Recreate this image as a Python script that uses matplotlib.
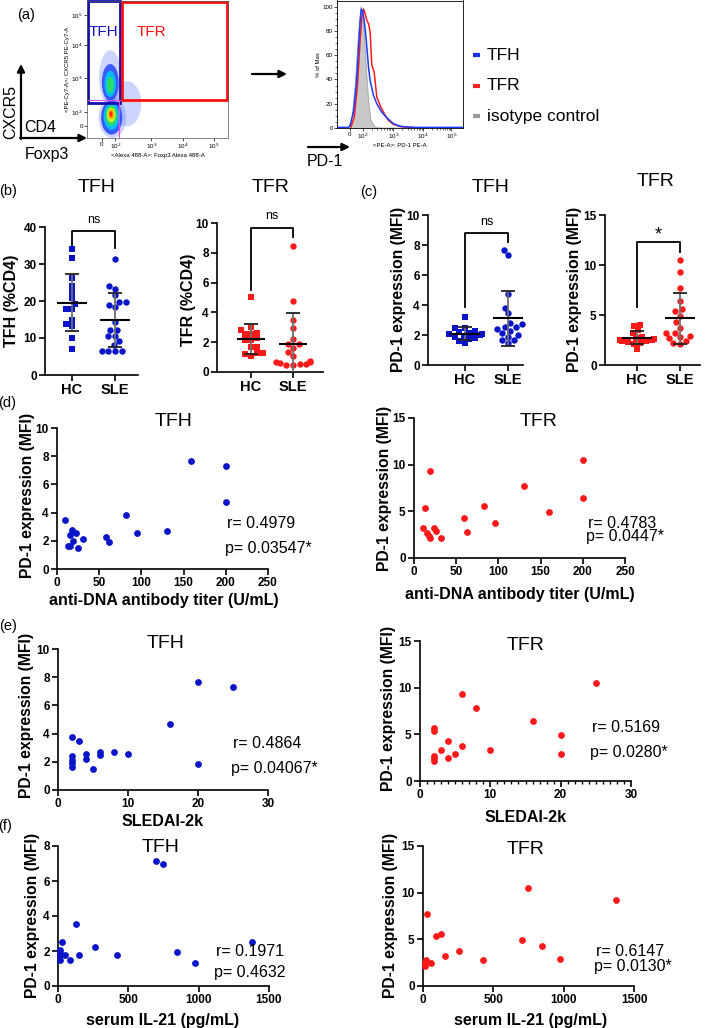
import matplotlib
matplotlib.use('Agg')
import matplotlib.pyplot as plt
from matplotlib.patches import Ellipse, Rectangle
import numpy as np
import seaborn as sns
import warnings
warnings.filterwarnings('ignore')

plt.rcParams['font.family'] = ['Liberation Sans', 'DejaVu Sans']

BLUE = '#0a14c8'
RED = '#ff1a1a'

# ---------------- data ----------------
groups = ['HC', 'SLE']
# (b) frequency of TFH / TFR (% of CD4)
tfh_pct_hc = [34.1, 31.7, 26.1, 24.0, 22.4, 20.8, 19.2, 17.8, 17.9, 14.9, 13.7, 13.3, 10.0, 7.1]
tfh_pct_sle = [31.4, 24.0, 23.3, 21.5, 19.8, 19.8, 19.0, 18.5, 14.2, 12.2, 12.2, 10.6, 10.6, 9.3, 8.2, 6.5, 6.5, 6.5, 6.5]
tfr_pct_hc = [5.05, 3.05, 2.85, 2.65, 2.55, 2.55, 2.25, 2.15, 2.15, 1.65, 1.65, 1.3, 1.25, 1.2, 1.1]
tfr_pct_sle = [8.44, 4.79, 3.5, 2.94, 2.2, 1.85, 1.85, 1.6, 1.34, 1.05, 0.75, 0.7, 0.65, 0.6, 0.55, 0.55, 0.5, 0.45]
# (c) PD-1 MFI of healthy controls
tfh_pd1_hc = [3.2, 2.5, 2.45, 2.3, 2.2, 2.15, 2.1, 2.05, 2.0, 1.95, 1.85, 1.8, 1.75, 1.6, 1.45]
tfr_pd1_hc = [4.05, 3.9, 3.5, 3.2, 2.85, 2.7, 2.6, 2.55, 2.5, 2.45, 2.4, 2.35, 2.25, 2.1, 1.6]
# (d) anti-DNA titer vs PD-1 (SLE)
dna_tfh_x = [9.9, 12.7, 15.1, 15.9, 17.9, 18.7, 22.6, 25.0, 31.0, 57.5, 61.5, 81.3, 95.2, 130.0, 158.7, 200.0, 200.0]
dna_tfh_y = [3.44, 1.66, 1.66, 2.39, 2.77, 2.01, 2.54, 1.47, 2.11, 2.30, 1.90, 3.82, 2.54, 2.73, 7.65, 7.32, 4.72]
dna_tfr_x = [10.7, 13.4, 15.8, 17.8, 18.6, 19.4, 23.7, 25.7, 31.6, 58.9, 62.5, 82.7, 95.7, 130.5, 159.4, 200.0, 200.0]
dna_tfr_y = [3.25, 5.36, 2.68, 2.39, 9.29, 2.11, 3.25, 2.89, 2.18, 4.29, 2.82, 5.61, 3.75, 7.71, 4.89, 10.46, 6.43]
# (e) SLEDAI-2k vs PD-1
sledai_tfh_x = [2, 2, 2, 2, 2, 3, 4, 4, 5, 6, 6, 8, 10, 16, 20, 20, 25]
sledai_tfh_y = [3.79, 2.44, 2.13, 1.90, 1.61, 3.44, 2.56, 2.23, 1.47, 2.73, 2.49, 2.73, 2.54, 4.69, 7.63, 1.85, 7.30]
sledai_tfr_x = [2, 2, 2, 2, 2, 3, 4, 4, 5, 6, 6, 8, 10, 16, 20, 20, 25]
sledai_tfr_y = [5.63, 5.38, 2.71, 2.42, 2.14, 3.28, 4.31, 2.49, 2.92, 9.30, 3.74, 7.77, 3.28, 6.45, 4.92, 2.89, 10.51]
# (f) serum IL-21 vs PD-1
il21_tfh_x = [12, 12, 12, 15, 31, 52, 88, 126, 150, 261, 420, 700, 743, 847, 973, 1377]
il21_tfh_y = [2.04, 1.76, 1.47, 1.90, 2.52, 1.79, 1.47, 3.57, 1.79, 2.23, 1.76, 7.12, 6.98, 1.95, 1.32, 2.52]
il21_tfr_x = [12, 12, 12, 24, 31, 55, 90, 126, 154, 256, 427, 704, 746, 846, 972, 1374]
il21_tfr_y = [2.57, 2.32, 2.11, 2.75, 7.68, 2.46, 5.32, 5.61, 3.21, 3.71, 2.82, 4.89, 10.5, 4.25, 2.89, 9.25]
stats_text = {
    'd_tfh': ('r= 0.4979', 'p= 0.03547*'), 'd_tfr': ('r= 0.4783', 'p= 0.0447*'),
    'e_tfh': ('r= 0.4864', 'p= 0.04067*'), 'e_tfr': ('r= 0.5169', 'p= 0.0280*'),
    'f_tfh': ('r= 0.1971', 'p= 0.4632'), 'f_tfr': ('r= 0.6147', 'p= 0.0130*'),
}
# (a) PD-1 histogram (display channel vs % of max)
hist_tfh_ch = [0, 92, 105, 132, 153, 171, 184, 192, 203, 216, 232, 250, 263, 289, 316, 355, 395, 447, 500, 605, 1000]
hist_tfh_pct = [0.5, 0.5, 2.2, 14.5, 36, 67, 88.5, 98, 96.7, 88.5, 72.6, 50, 39, 27, 20, 13, 8.5, 3.6, 1.4, 0.5, 0.5]
hist_tfr_ch = [111, 137, 163, 184, 197, 211, 224, 237, 250, 263, 276, 295, 316, 342, 374, 408, 447, 500, 553, 605]
hist_tfr_pct = [0.8, 9, 36, 73, 91, 98, 94, 88.5, 86, 79, 52, 46, 25.5, 18.6, 12, 6.3, 3, 1.4, 0.5, 0.5]
hist_iso_ch = [0, 92, 118, 145, 171, 192, 211, 232, 250, 268, 303, 342, 1000]
hist_iso_pct = [0, 0, 6, 36, 78, 100, 88, 50, 23, 6.3, 0.8, 0, 0]
# biexponential display: tick labels and channel positions
fl_tick_labels = ['0', '10$^2$', '10$^3$', '10$^4$', '10$^5$']
fl_x_ticks = [106, 201, 456, 681, 898]
fl_y_ticks = [84, 190, 439, 680, 899]
hist_x_ticks = [100, 203, 447, 684, 908]
# density blobs of the CD4 dot plot: (x, y, width, height) in channels
blob_colors = ['#2a4cff', '#00c8ff', '#2ee05a', '#e8f020', '#ff9a00', '#ff1a00']
blob_upper = [(165, 405, 120, 270), (165, 395, 82, 190), (165, 388, 50, 120)]
blob_lower = [(175, 150, 150, 250), (174, 158, 112, 198), (173, 163, 84, 150),
              (172, 168, 60, 106), (171, 172, 40, 70), (170, 175, 22, 40)]
blob_sparse = [(165, 440, 160, 400), (180, 150, 195, 300), (285, 250, 200, 330)]

# ---------------- figure ----------------
W, H = 709, 1028
fig = plt.figure(figsize=(W / 100, H / 100), dpi=100)


def ax_px(l, t, r, b):
    return fig.add_axes([l / W, 1 - b / H, (r - l) / W, (b - t) / H], facecolor='none')


def prism_axes(ax):
    for s in ['top', 'right']:
        ax.spines[s].set_visible(False)
    for s in ['left', 'bottom']:
        ax.spines[s].set_linewidth(1.2)
    ax.tick_params(length=4, width=1.2, pad=2)


def fmt(v):
    return str(int(v)) if float(v).is_integer() else str(v)


# ---- (a) dot plot
axd = ax_px(87, 1, 228, 138)
axd.set_xlim(0, 1000)
axd.set_ylim(0, 1000)
for (cx, cy, w, h) in blob_sparse:
    axd.add_patch(Ellipse((cx, cy), w, h, facecolor='#6f86ff', edgecolor='none', alpha=0.35))
for (cx, cy, w, h), c in zip(blob_upper, blob_colors):
    axd.add_patch(Ellipse((cx, cy), w, h, facecolor=c, edgecolor='none', alpha=0.9))
for (cx, cy, w, h), c in zip(blob_lower, blob_colors):
    axd.add_patch(Ellipse((cx, cy), w, h, facecolor=c, edgecolor='none', alpha=0.9))
axd.plot([0, 236], [277, 277], color='#e050e0', lw=0.8)
axd.plot([225, 225], [0, 277], color='#e050e0', lw=0.8)
axd.add_patch(Rectangle((4, 258), 232, 739, fill=False, edgecolor='#1010b0', lw=2.0, clip_on=False))
axd.add_patch(Rectangle((248, 277), 742, 716, fill=False, edgecolor='#ff1010', lw=2.0, clip_on=False))
axd.text(118, 771, 'TFH', color='#1010c0', fontsize=11, ha='center', va='center')
axd.text(456, 771, 'TFR', color='#ff1010', fontsize=11, ha='center', va='center')
axd.set_xticks(fl_x_ticks, labels=fl_tick_labels, fontsize=4.5)
axd.set_yticks(fl_y_ticks, labels=fl_tick_labels, fontsize=4.5)
axd.tick_params(length=2, width=0.5, pad=1)
for s in axd.spines.values():
    s.set_linewidth(0.5)
    s.set_color('#555555')
axd.set_xlabel('<Alexa 488-A>: Foxp3 Alexa 488-A', fontsize=4.3, labelpad=1)
axd.set_ylabel('<PE-Cy7-A>: CXCR5 PE-Cy7-A', fontsize=4.3, labelpad=1)

# ---- (a) histogram
axh = ax_px(337, 0.5, 463, 128)
axh.fill_between(hist_iso_ch, hist_iso_pct, color='#c8c8c8', lw=0)
axh.plot(hist_iso_ch, hist_iso_pct, color='#a8a8a8', lw=0.6)
axh.plot(hist_tfr_ch, hist_tfr_pct, color=RED, lw=1.1)
axh.plot(hist_tfh_ch, hist_tfh_pct, color='#1a3cff', lw=1.1)
axh.set_xlim(0, 1000)
axh.set_ylim(0, 105)
axh.set_xticks(hist_x_ticks, labels=fl_tick_labels, fontsize=4.5)
axh.set_yticks([0, 20, 40, 60, 80, 100], labels=['0', '20', '40', '60', '80', '100'], fontsize=4.5)
axh.set_yticks(np.arange(0, 105, 5), minor=True)
minor_h = []
for a, b in zip(hist_x_ticks[1:-1], hist_x_ticks[2:]):
    minor_h += [a + (b - a) * np.log10(k) for k in range(2, 10)]
axh.set_xticks(minor_h, minor=True)
axh.tick_params(length=2, width=0.5, pad=1)
axh.tick_params(which='minor', length=1.2, width=0.4)
for s in axh.spines.values():
    s.set_linewidth(0.6)
axh.set_xlabel('<PE-A>: PD-1 PE-A', fontsize=4.3, labelpad=1)
axh.set_ylabel('% of Max', fontsize=4.3, labelpad=1)


# ---- (b), (c) strip charts
def strip_panel(rect, xlim, ylim, yticks, hc, sle, color, bracket, sig, sig_y, sig_size):
    ax = ax_px(*rect)
    sns.swarmplot(x=['HC'] * len(hc), y=hc, order=groups, marker='s', color=color, size=4.2,
                  linewidth=0, ax=ax, clip_on=False, zorder=3)
    sns.swarmplot(x=['SLE'] * len(sle), y=sle, order=groups, marker='o', color=color, size=4.6,
                  linewidth=0, ax=ax, clip_on=False, zorder=3)
    for i, vals in enumerate([hc, sle]):
        m = np.mean(vals)
        sd = np.std(vals, ddof=1)
        ax.vlines(i, m - sd, m + sd, color='#707070', lw=1.3, zorder=4)
        ax.hlines([m - sd, m + sd], i - 0.16, i + 0.16, color='#222222', lw=1.3, zorder=4)
        ax.hlines(m, i - 0.34, i + 0.34, color='k', lw=1.5, zorder=5)
    leg_hc, top, leg_sle = bracket
    ax.plot([0, 0, 1, 1], [leg_hc, top, top, leg_sle], color='k', lw=1.3, clip_on=False)
    ax.text(0.5, sig_y, sig, ha='center', va='center', fontsize=sig_size, clip_on=False)
    ax.set_xlim(xlim)
    ax.set_ylim(ylim)
    ax.set_xticks([0, 1], labels=groups, fontweight='bold', fontsize=10.5)
    ax.set_yticks(yticks, labels=[fmt(t) for t in yticks], fontweight='bold', fontsize=8.5)
    ax.set_xlabel('')
    ax.set_ylabel('')
    prism_axes(ax)
    return ax


strip_panel((45, 227, 138, 375), (-0.628, 1.535), (0, 40), [0, 10, 20, 30, 40],
            tfh_pct_hc, tfh_pct_sle, BLUE, (34, 38.9, 34.2), 'ns', 41.9, 9)
strip_panel((217, 223, 323, 372), (-0.81, 1.714), (0, 10), [0, 2, 4, 6, 8, 10],
            tfr_pct_hc, tfr_pct_sle, RED, (5.5, 9.66, 9.06), 'ns', 10.5, 9)
strip_panel((428, 215, 523, 365), (-0.86, 1.35), (0, 10), [0, 2, 4, 6, 8, 10],
            tfh_pd1_hc, dna_tfh_y, BLUE, (3.87, 8.8, 8.2), 'ns', 9.55, 9)
strip_panel((605, 215, 700, 365), (-0.744, 1.465), (0, 15), [0, 5, 10, 15],
            tfr_pd1_hc, dna_tfr_y, RED, (5.8, 12.3, 11.3), '*', 13.0, 13)


# ---- (d), (e), (f) scatter plots
def scatter_panel(rect, x, y, color, xlim, xticks, ylim, yticks, minor_step=None):
    ax = ax_px(*rect)
    ax.scatter(x, y, s=24, color=color, lw=0, clip_on=False, zorder=3)
    ax.set_xlim(xlim)
    ax.set_ylim(ylim)
    ax.set_xticks(xticks, labels=[fmt(t) for t in xticks], fontweight='bold', fontsize=8.5)
    ax.set_yticks(yticks, labels=[fmt(t) for t in yticks], fontweight='bold', fontsize=8.5)
    if minor_step:
        ax.set_xticks(np.arange(xlim[0], xlim[1] + 0.01, minor_step), minor=True)
        ax.tick_params(axis='x', which='minor', length=2.5, width=1.0)
    prism_axes(ax)
    return ax


scatter_panel((57, 428, 268, 569), dna_tfh_x, dna_tfh_y, BLUE, (0, 250), [0, 50, 100, 150, 200, 250],
              (0, 10), [0, 2, 4, 6, 8, 10])
scatter_panel((414, 418, 625, 558), dna_tfr_x, dna_tfr_y, RED, (0, 250), [0, 50, 100, 150, 200, 250],
              (0, 15), [0, 5, 10, 15])
scatter_panel((58, 649, 268, 790), sledai_tfh_x, sledai_tfh_y, BLUE, (0, 30), [0, 10, 20, 30],
              (0, 10), [0, 2, 4, 6, 8, 10])
scatter_panel((420, 641, 631, 781), sledai_tfr_x, sledai_tfr_y, RED, (0, 30), [0, 10, 20, 30],
              (0, 15), [0, 5, 10, 15], minor_step=1)
scatter_panel((58, 846, 269, 986), il21_tfh_x, il21_tfh_y, BLUE, (0, 1500), [0, 500, 1000, 1500],
              (0, 8), [0, 2, 4, 6, 8])
scatter_panel((423, 846, 634, 986), il21_tfr_x, il21_tfr_y, RED, (0, 1500), [0, 500, 1000, 1500],
              (0, 15), [0, 5, 10, 15])

# ---------------- overlay: labels, arrows, legend ----------------
ov = fig.add_axes([0, 0, 1, 1], facecolor='none')
ov.set_xlim(0, W)
ov.set_ylim(H, 0)
ov.axis('off')


def T(x, y, s, size, **kw):
    kw.setdefault('ha', 'center')
    kw.setdefault('va', 'center')
    ov.text(x, y, s, fontsize=size, **kw)


arrow = dict(arrowstyle='-|>', color='k', lw=1.6, mutation_scale=11, shrinkA=0, shrinkB=0)
ov.annotate('', xy=(21, 64), xytext=(21, 139), arrowprops=arrow)
ov.annotate('', xy=(87, 138), xytext=(20, 138), arrowprops=arrow)
ov.annotate('', xy=(287, 74), xytext=(252, 74), arrowprops=arrow)
ov.annotate('', xy=(350, 147), xytext=(308, 147), arrowprops=arrow)
T(11, 112, 'CXCR5', 11.5, rotation=90)
T(40, 127, 'CD4', 11.5)
T(47, 154, 'Foxp3', 11.5)
T(325, 161, 'PD-1', 11.5)
for yy, col, lab in [(55, '#1a2ce0', 'TFH'), (86, '#ff2020', 'TFR'), (116, '#9a9a9a', 'isotype control')]:
    ov.plot([473, 480], [yy, yy], color=col, lw=3, solid_capstyle='butt')
    T(487, yy, lab, 12.5, ha='left')

# panel letters
T(26, 15, '(a)', 10.5)
T(8, 191, '(b)', 10.5)
T(369, 192, '(c)', 10.5)
T(7, 403, '(d)', 10.5)
T(8, 626, '(e)', 10.5)
T(5, 826, '(f)', 10.5)

# titles
for x, y, s in [(97, 188, 'TFH'), (271, 188, 'TFR'), (491, 188, 'TFH'), (656, 182, 'TFR'),
                (174, 421, 'TFH'), (539, 421, 'TFR'), (166, 644, 'TFH'), (526, 646, 'TFR'),
                (161, 848, 'TFH'), (526, 850, 'TFR')]:
    T(x, y, s, 14)

# axis labels
ylab = 'PD-1 expression (MFI)'
T(12, 301, 'TFH (%CD4)', 11.5, rotation=90, fontweight='bold')
T(188, 300, 'TFR (%CD4)', 11.5, rotation=90, fontweight='bold')
for x, y in [(398, 289), (575, 289), (28, 495), (384, 488), (27, 715), (389, 708), (33, 915), (391, 915)]:
    T(x, y, ylab, 11.3, rotation=90, fontweight='bold')
for x, y, s in [(164, 600, 'anti-DNA antibody titer (U/mL)'), (520, 595, 'anti-DNA antibody titer (U/mL)'),
                (163, 821, 'SLEDAI-2k'), (526, 817, 'SLEDAI-2k'),
                (163, 1020, 'serum IL-21 (pg/mL)'), (531, 1020, 'serum IL-21 (pg/mL)')]:
    T(x, y, s, 11.5, fontweight='bold')

# correlation statistics
for key, (x, yr, yp) in {'d_tfh': (227, 523, 548), 'd_tfr': (588, 524, 537),
                         'e_tfh': (233, 744, 768), 'e_tfr': (592, 728, 752),
                         'f_tfh': (216, 952, 973), 'f_tfr': (596, 952, 966)}.items():
    r_s, p_s = stats_text[key]
    T(x, yr, r_s, 11.5, ha='left')
    T(x - 2, yp, p_s, 11.5, ha='left')

fig.savefig('out.png', dpi=100)
